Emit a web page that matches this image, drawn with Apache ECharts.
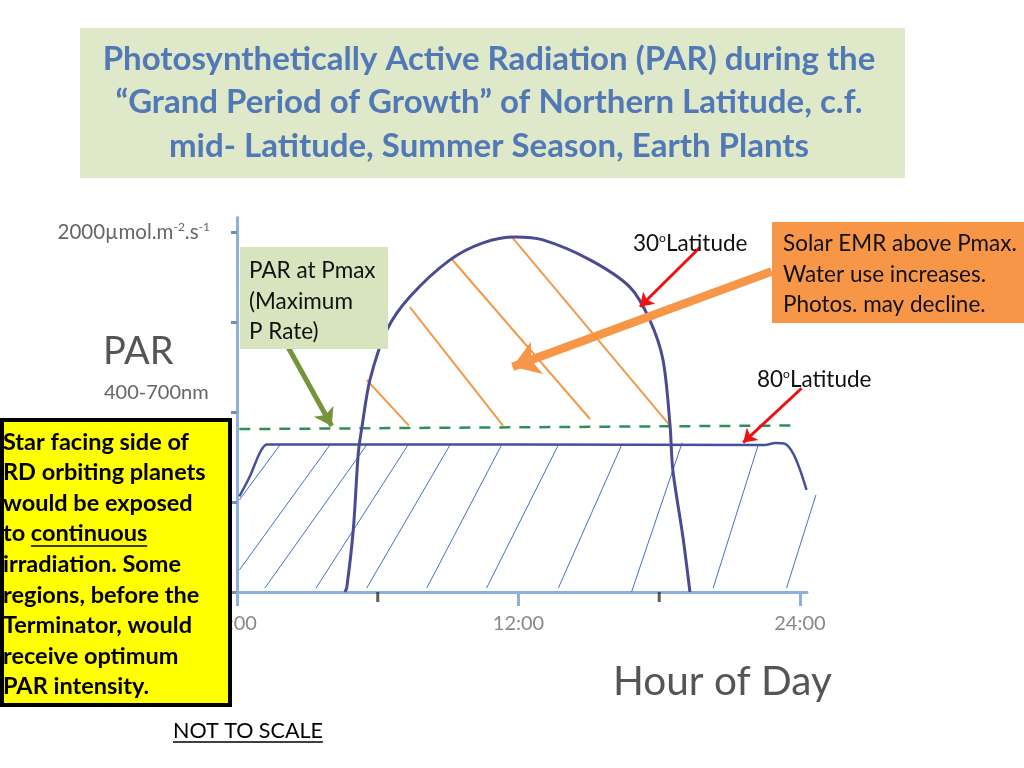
<!DOCTYPE html>
<html>
<head>
<meta charset="utf-8">
<script src="https://cdn.jsdelivr.net/npm/echarts@6/dist/echarts.min.js"></script>
<style>
  html, body { margin: 0; padding: 0; background: #fff; }
  #chart { width: 1024px; height: 768px; }
</style>
</head>
<body>
<div id="chart"></div>
<script>
// hour of day ticks shown on the x axis
const hourTicks = [0, 12, 24]
// PAR ticks on the y axis, only the top one is labelled
const parTicks = [0, 500, 1000, 1500, 2000]
const parLabels = [2000]

// PAR curves, [hour, PAR]
const lat30 = [
  [4.6, 0], [4.68, 25], [4.96, 350], [5.17, 770], [5.33, 920], [5.67, 1180],
  [6.39, 1456], [7.37, 1640], [9.08, 1845], [10.49, 1940], [11.85, 1972],
  [13.04, 1956], [15.05, 1845], [16.75, 1694], [17.6, 1511], [18.16, 1290],
  [18.46, 928], [18.58, 678], [19.01, 306], [19.31, 0]
]
const lat80 = [
  [0.1, 531], [0.55, 643], [0.98, 775], [1.27, 819], [2, 820], [12, 820],
  [22.5, 817], [22.95, 828], [23.35, 824], [23.7, 772], [24.0, 680], [24.28, 567]
]
// PAR at Pmax (dashed)
const pmaxLine = [[0.1, 905], [23.6, 925]]

// hatching under the 80 deg curve and above Pmax under the 30 deg curve
const hatch80 = [
  [[0.1, 511], [1.83, 817]],
  [[0.1, 122], [3.96, 817]],
  [[1.19, 22], [5.53, 817]],
  [[3.37, 22], [7.29, 817]],
  [[5.53, 22], [9.08, 817]],
  [[8.09, 22], [11.28, 817]],
  [[10.64, 22], [13.70, 817]],
  [[13.70, 22], [16.40, 817]],
  [[16.82, 0], [18.98, 830]],
  [[20.30, 22], [22.22, 817]],
  [[23.43, 22], [24.68, 539]]
]
const hatch30 = [
  [[5.53, 1178], [7.33, 924]],
  [[7.37, 1583], [11.34, 924]],
  [[9.15, 1850], [15.05, 961]],
  [[11.75, 1967], [18.46, 924]]
]
const hourMarks = [[6, 0], [18, 0]]

// annotation arrows [from, to]
const redArrows = [
  [[19.74, 1915], [17.18, 1585]],
  [[24.07, 1132], [21.58, 830]]
]
const greenArrow = [[2.05, 1390], [4.04, 922]]
const orangeArrow = [[22.79, 1780], [11.75, 1252]]

const titleLines = [
  'Photosynthetically Active Radiation (PAR) during the',
  '\u201cGrand Period of Growth\u201d of Northern Latitude, c.f.',
  'mid- Latitude, Summer Season, Earth Plants'
]
const pmaxLines = ['PAR at Pmax', '(Maximum', 'P Rate)']
const solarLines = ['Solar EMR above Pmax.', 'Water use increases.', 'Photos. may decline.']
const starLines = [
  'Star facing side of', 'RD orbiting planets', 'would be exposed', 'to continuous',
  'irradiation. Some', 'regions, before the', 'Terminator, would', 'receive optimum',
  'PAR intensity.'
]

const FONT = 'Lato, "Open Sans", sans-serif'

// text width helper for the underlines
const measureCtx = document.createElement('canvas').getContext('2d')
const textWidth = (text, font) => { measureCtx.font = font; return measureCtx.measureText(text).width }

const textEl = (text, x, y, font, fill, align) => ({
  type: 'text', x: x, y: y, z: 110,
  style: { text: text, font: font, fill: fill, textAlign: align || 'left', textVerticalAlign: 'middle' }
})

const graphics = []
graphics.push({ type: 'rect', z: 100, shape: { x: 80, y: 28, width: 825, height: 150 }, style: { fill: '#dfe8c9' } })
titleLines.forEach((t, i) => graphics.push(textEl(t, 489, 59 + i * 43.5, 'bold 33px ' + FONT, '#5079b6', 'center')))

graphics.push({ type: 'rect', z: 100, shape: { x: 240, y: 247, width: 148, height: 102 }, style: { fill: '#d7e4bd' } })
pmaxLines.forEach((t, i) => graphics.push(textEl(t, 249, 271 + i * 30.5, '22.5px ' + FONT, '#111')))

graphics.push({ type: 'rect', z: 100, shape: { x: 772, y: 222, width: 252, height: 101 }, style: { fill: '#f79646' } })
solarLines.forEach((t, i) => graphics.push(textEl(t, 783, 244 + i * 30.5, '22.5px ' + FONT, '#111')))

const latRich = { s: { fontSize: 12, fontFamily: 'Lato', verticalAlign: 'top', fill: '#111' } }
graphics.push({
  type: 'text', x: 633, y: 244, z: 110,
  style: { text: '30{s|o}Latitude', font: '22.5px ' + FONT, fill: '#111', textVerticalAlign: 'middle', rich: latRich }
})
graphics.push({
  type: 'text', x: 757, y: 380, z: 110,
  style: { text: '80{s|o}Latitude', font: '22.5px ' + FONT, fill: '#111', textVerticalAlign: 'middle', rich: latRich }
})

const starFont = 'bold 23.5px ' + FONT
graphics.push({ type: 'rect', z: 100, shape: { x: 2, y: 420, width: 228, height: 285 }, style: { fill: '#ffff00', stroke: '#000', lineWidth: 4 } })
starLines.forEach((t, i) => graphics.push(textEl(t, 3, 442 + i * 30.6, starFont, '#000')))
const ulStart = 3 + textWidth('to ', starFont)
const ulEnd = ulStart + textWidth('continuous', starFont)
graphics.push({ type: 'line', z: 110, shape: { x1: ulStart, y1: 546, x2: ulEnd, y2: 546 }, style: { stroke: '#000', lineWidth: 1.5 } })

const noteFont = '21.5px ' + FONT
graphics.push(textEl('NOT TO SCALE', 173, 731, noteFont, '#000'))
graphics.push({ type: 'line', z: 110, shape: { x1: 173, y1: 742, x2: 173 + textWidth('NOT TO SCALE', noteFont), y2: 742 }, style: { stroke: '#000', lineWidth: 1.5 } })

graphics.push(textEl('PAR', 103, 352, '38px ' + FONT, '#555'))
graphics.push(textEl('400-700nm', 104, 393, '20px ' + FONT, '#666'))
graphics.push(textEl('Hour of Day', 613, 682, '40.5px ' + FONT, '#555'))

const chart = echarts.init(document.getElementById('chart'))
chart.setOption({
  animation: false,
  backgroundColor: '#fff',
  grid: { left: 237, right: 217, top: 217.6, bottom: 176 },
  xAxis: {
    type: 'value', min: 0, max: 24.3,
    splitLine: { show: false },
    axisLine: { lineStyle: { color: '#8eb0dc', width: 3 } },
    axisTick: { length: 14, customValues: hourTicks, lineStyle: { color: '#8eb0dc', width: 3 } },
    axisLabel: {
      margin: 22, color: '#888', fontSize: 20, fontFamily: FONT,
      customValues: hourTicks,
      formatter: v => v + ':00'
    }
  },
  yAxis: {
    type: 'value', min: 0, max: 2080,
    splitLine: { show: false },
    axisLine: { show: true, lineStyle: { color: '#8eb0dc', width: 3 } },
    axisTick: { show: true, length: 6, customValues: parTicks, lineStyle: { color: '#6f8fc0', width: 3 } },
    axisLabel: {
      margin: 27, color: '#666', fontSize: 20.5, fontFamily: FONT,
      customValues: parLabels,
      formatter: v => v + '\u00b5mol.m{s|-2}.s{s|-1}',
      rich: { s: { fontSize: 12, verticalAlign: 'top', color: '#666' } }
    }
  },
  graphic: graphics,
  series: [
    {
      name: '80 Latitude', type: 'line', data: lat80, smooth: 0.3, symbol: 'none', clip: false,
      lineStyle: { color: '#45509a', width: 2.5 }, z: 5
    },
    {
      name: '30 Latitude', type: 'line', data: lat30, smooth: 0.3, symbol: 'none', clip: false,
      lineStyle: { color: '#4b4a93', width: 3 }, z: 5
    },
    {
      name: 'PAR at Pmax', type: 'line', data: pmaxLine, symbol: 'none', clip: false,
      lineStyle: { color: '#2f8f5a', width: 2.5, type: [11, 9] }, z: 4
    },
    {
      name: 'hatch 80', type: 'lines', coordinateSystem: 'cartesian2d', clip: false,
      data: hatch80.map(c => ({ coords: c })),
      lineStyle: { color: '#4472c4', width: 1, opacity: 1 }, z: 3
    },
    {
      name: 'hatch 30', type: 'lines', coordinateSystem: 'cartesian2d', clip: false,
      data: hatch30.map(c => ({ coords: c })),
      lineStyle: { color: '#f29a4a', width: 2, opacity: 1 }, z: 3
    },
    {
      name: 'hour marks', type: 'scatter', data: hourMarks, symbol: 'rect', symbolSize: [3, 10],
      symbolOffset: [0, 5], itemStyle: { color: '#333' }, clip: false, z: 6
    },
    {
      name: 'red arrows', type: 'lines', coordinateSystem: 'cartesian2d', clip: false,
      data: redArrows.map(c => ({ coords: c })), symbol: ['none', 'arrow'], symbolSize: 13,
      lineStyle: { color: '#ee1111', width: 3, opacity: 1 }, z: 8
    },
    {
      name: 'green arrow', type: 'lines', coordinateSystem: 'cartesian2d', clip: false,
      data: [{ coords: greenArrow }], symbol: ['none', 'arrow'], symbolSize: 17,
      lineStyle: { color: '#77933c', width: 5, opacity: 1 }, z: 8
    },
    {
      name: 'orange arrow', type: 'lines', coordinateSystem: 'cartesian2d', clip: false,
      data: [{ coords: orangeArrow }], symbol: ['none', 'arrow'], symbolSize: 26,
      lineStyle: { color: '#f79646', width: 8.5, opacity: 1 }, z: 8
    }
  ]
})
</script>
</body>
</html>
